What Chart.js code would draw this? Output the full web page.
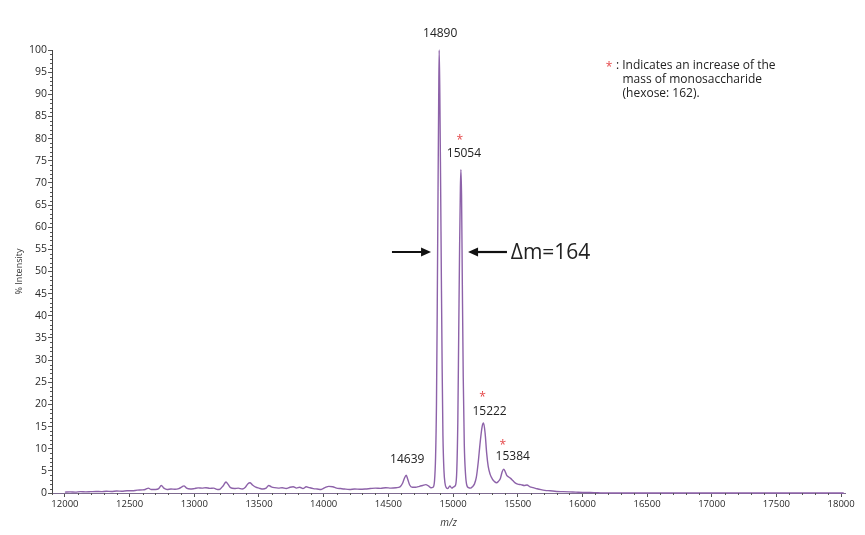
<!DOCTYPE html>
<html>
<head>
<meta charset="utf-8">
<script src="https://cdn.jsdelivr.net/npm/chart.js@4.4.0/dist/chart.umd.min.js"></script>
<style>
  html, body { margin: 0; padding: 0; background: #fff; }
</style>
</head>
<body>
<canvas id="spectrum" width="865" height="535"></canvas>
<script>
// spectrum (m/z, % intensity)
const mz = [
  12000, 12040, 12080, 12120, 12160, 12200, 12240, 12280, 12320, 12360,
  12400, 12440, 12480, 12520, 12560, 12600, 12625, 12645, 12665, 12700,
  12725, 12745, 12765, 12790, 12820, 12850, 12880, 12905, 12920, 12940,
  12970, 13000, 13030, 13060, 13090, 13120, 13150, 13180, 13200, 13225,
  13245, 13260, 13280, 13310, 13340, 13370, 13395, 13415, 13430, 13450,
  13475, 13500, 13530, 13555, 13575, 13595, 13620, 13650, 13680, 13710,
  13740, 13765, 13790, 13815, 13840, 13865, 13890, 13920, 13950, 13980,
  14010, 14040, 14070, 14100, 14130, 14160, 14200, 14240, 14280, 14320,
  14360, 14400, 14440, 14480, 14520, 14560, 14590, 14610, 14625, 14638,
  14650, 14665, 14685, 14710, 14740, 14765, 14790, 14810, 14830, 14845,
  14857, 14865, 14872, 14878, 14884, 14889, 14893, 14898, 14904, 14910,
  14916, 14922, 14930, 14938, 14948, 14960, 14975, 14990, 15005, 15020,
  15029, 15037, 15044, 15051, 15057, 15061, 15066, 15072, 15079, 15087,
  15096, 15106, 15120, 15135, 15150, 15165, 15180, 15195, 15210, 15225,
  15236, 15248, 15260, 15272, 15287, 15303, 15320, 15336, 15350, 15366,
  15380, 15392, 15402, 15415, 15430, 15445, 15462, 15480, 15500, 15525,
  15550, 15572, 15595, 15620, 15650, 15680, 15710, 15750, 15800, 15850,
  15900, 15950, 16000, 16060, 16120, 16180, 16400, 16800, 17200, 17600,
  18020
];
const intensity = [
  0.2, 0.25, 0.2, 0.3, 0.25, 0.3, 0.35, 0.3, 0.4, 0.35,
  0.45, 0.4, 0.5, 0.5, 0.65, 0.7, 0.85, 1.1, 0.8, 0.8,
  1.0, 1.7, 1.1, 0.8, 0.9, 0.85, 1.0, 1.4, 1.6, 1.1,
  0.9, 1.0, 1.15, 1.1, 1.2, 1.05, 1.1, 0.8, 0.9, 1.7,
  2.5, 2.0, 1.2, 1.0, 1.1, 0.9, 1.3, 2.1, 2.3, 1.8,
  1.3, 1.1, 0.9, 1.1, 1.7, 1.4, 1.2, 1.1, 1.2, 1.0,
  1.3, 1.4, 1.1, 1.3, 1.0, 1.4, 1.2, 1.0, 0.9, 0.8,
  1.2, 1.5, 1.4, 1.1, 1.0, 0.9, 0.8, 0.9, 0.85, 0.9,
  1.0, 1.1, 1.05, 1.2, 1.1, 1.2, 1.4, 2.2, 3.4, 4.0,
  3.1, 1.8, 1.3, 1.3, 1.5, 1.7, 1.9, 1.6, 1.2, 1.3,
  2.8, 8, 20, 42, 68, 88, 100, 90, 70, 48,
  28, 13, 5, 2.2, 1.2, 1.0, 1.6, 1.1, 1.4, 1.8,
  5, 16, 36, 56, 69, 73, 67, 47, 26, 11,
  4.5, 1.8, 1.2, 1.1, 1.4, 2.0, 3.5, 7, 11.5, 15,
  15.8, 13.5, 9, 6, 4.2, 3.2, 2.6, 2.3, 2.6, 3.3,
  4.8, 5.4, 4.9, 4.0, 3.6, 3.3, 2.8, 2.3, 2.0, 1.9,
  1.7, 1.8, 1.4, 1.2, 0.95, 0.75, 0.6, 0.5, 0.35, 0.3,
  0.25, 0.2, 0.15, 0.1, 0.05, 0, 0, 0, 0, 0,
  0
];

const peakMasses = [14639, 14890, 15054, 15222, 15384];
const peakLabels = ['14639', '14890', '15054', '15222', '15384'];
const hexoseAdded = [false, false, true, true, true]; // red star
const noteLines = [': Indicates an increase of the', 'mass of monosaccharide', '(hexose: 162).'];
const deltaText = '\u0394m=164';

// label offsets from peak apex, px
const labelDx = [1, 1, 3, 6, 9];
const labelDy = [-16, -16, -16, -11, -12];
const starDx = [0, 0, -1, -1, -1];
const starDy = [0, 0, -32, -28, -26];

const purple = '#8d62a9';
const font = 'Open Sans';

const minorTicks = {
  id: 'minorTicks',
  afterDraw(chart) {
    const { ctx, scales: { x, y } } = chart;
    ctx.save();
    ctx.strokeStyle = '#555';
    ctx.lineWidth = 1;
    x.ticks.forEach(t => {
      if (t.value % 500 === 0) return;
      const px = Math.round(x.getPixelForValue(t.value)) + 0.5;
      ctx.beginPath();
      ctx.moveTo(px, x.top);
      ctx.lineTo(px, x.top + 2);
      ctx.stroke();
    });
    y.ticks.forEach(t => {
      if (t.value % 5 === 0) return;
      const py = Math.round(y.getPixelForValue(t.value)) + 0.5;
      ctx.beginPath();
      ctx.moveTo(y.right - 2, py);
      ctx.lineTo(y.right, py);
      ctx.stroke();
    });
    ctx.restore();
  }
};

function arrow(ctx, x0, x1, yy) {
  // shaft from x0 to x1, head at x1
  const dir = Math.sign(x1 - x0);
  ctx.beginPath();
  ctx.moveTo(x0, yy);
  ctx.lineTo(x1 - dir * 8, yy);
  ctx.stroke();
  ctx.beginPath();
  ctx.moveTo(x1, yy);
  ctx.lineTo(x1 - dir * 10, yy - 4.5);
  ctx.lineTo(x1 - dir * 10, yy + 4.5);
  ctx.closePath();
  ctx.fill();
}

const annotations = {
  id: 'annotations',
  afterDatasetsDraw(chart) {
    const { ctx, scales: { x, y } } = chart;
    ctx.save();
    ctx.textAlign = 'center';
    ctx.textBaseline = 'middle';

    peakMasses.forEach((m, i) => {
      let best = -1;
      mz.forEach((v, j) => {
        if (Math.abs(v - m) <= 30 && (best < 0 || intensity[j] > intensity[best])) best = j;
      });
      const px = x.getPixelForValue(mz[best]);
      const py = y.getPixelForValue(intensity[best]);
      ctx.fillStyle = '#222';
      ctx.font = '12px "' + font + '"';
      ctx.fillText(peakLabels[i], px + labelDx[i], py + labelDy[i]);
      if (hexoseAdded[i]) {
        ctx.fillStyle = '#e5484a';
        ctx.font = '12px "' + font + '"';
        ctx.fillText('*', px + starDx[i], py + starDy[i] + 2.5);
      }
    });

    // delta m arrows
    const ay = y.getPixelForValue(54.4);
    ctx.strokeStyle = '#111';
    ctx.fillStyle = '#111';
    ctx.lineWidth = 2.2;
    arrow(ctx, x.getPixelForValue(14528), x.getPixelForValue(14830), ay);
    arrow(ctx, x.getPixelForValue(15417), x.getPixelForValue(15116), ay);
    ctx.textAlign = 'left';
    ctx.font = '21px "' + font + '"';
    ctx.fillStyle = '#222';
    ctx.fillText(deltaText, x.getPixelForValue(15446), ay + 1);

    // note, top right
    ctx.font = '12px "' + font + '"';
    ctx.fillStyle = '#e5484a';
    ctx.textAlign = 'center';
    ctx.fillText('*', 609, 68);
    ctx.fillStyle = '#222';
    ctx.textAlign = 'left';
    ctx.fillText(noteLines[0], 616, 66);
    ctx.fillText(noteLines[1], 622.5, 80);
    ctx.fillText(noteLines[2], 622.5, 94);
    ctx.restore();
  }
};

new Chart(document.getElementById('spectrum'), {
  type: 'line',
  data: {
    datasets: [{
      data: mz.map((m, i) => ({ x: m, y: intensity[i] })),
      borderColor: purple,
      borderWidth: 1.4,
      pointRadius: 0,
      fill: false,
      cubicInterpolationMode: 'monotone',
      clip: 4
    }]
  },
  options: {
    responsive: false,
    animation: false,
    layout: { padding: { top: 50, right: 20, left: 0, bottom: 0 } },
    plugins: { legend: { display: false }, tooltip: { enabled: false } },
    scales: {
      x: {
        type: 'linear',
        min: 11900,
        max: 18030,
        afterFit: s => { s.height = 42; },
        ticks: {
          stepSize: 100,
          autoSkip: false,
          includeBounds: false,
          maxRotation: 0,
          padding: 2,
          color: '#2a2a2a',
          font: { family: font, size: 9.5 },
          callback: v => (v % 500 === 0 ? String(v) : '')
        },
        grid: {
          drawOnChartArea: false,
          tickLength: 4,
          tickColor: c => (c.tick && c.tick.value % 500 === 0 ? '#555' : 'rgba(0,0,0,0)')
        },
        border: { color: '#7d6a8f', width: 1 },
        title: {
          display: true,
          text: 'm/z',
          color: '#333',
          font: { family: font, size: 10, style: 'italic' },
          padding: { top: 0, bottom: 6 }
        }
      },
      y: {
        min: 0,
        max: 100,
        afterFit: s => { s.width = 52; },
        ticks: {
          stepSize: 1,
          autoSkip: false,
          padding: 1,
          color: '#2a2a2a',
          font: { family: font, size: 10.5 },
          callback: v => (v % 5 === 0 ? String(v) : '')
        },
        grid: {
          drawOnChartArea: false,
          tickLength: 4,
          tickColor: c => (c.tick && c.tick.value % 5 === 0 ? '#555' : 'rgba(0,0,0,0)')
        },
        border: { color: '#444', width: 1 },
        title: {
          display: true,
          text: '% Intensity',
          color: '#333',
          font: { family: font, size: 9 },
          padding: { top: 14, bottom: 0 }
        }
      }
    }
  },
  plugins: [minorTicks, annotations]
});
</script>
</body>
</html>
